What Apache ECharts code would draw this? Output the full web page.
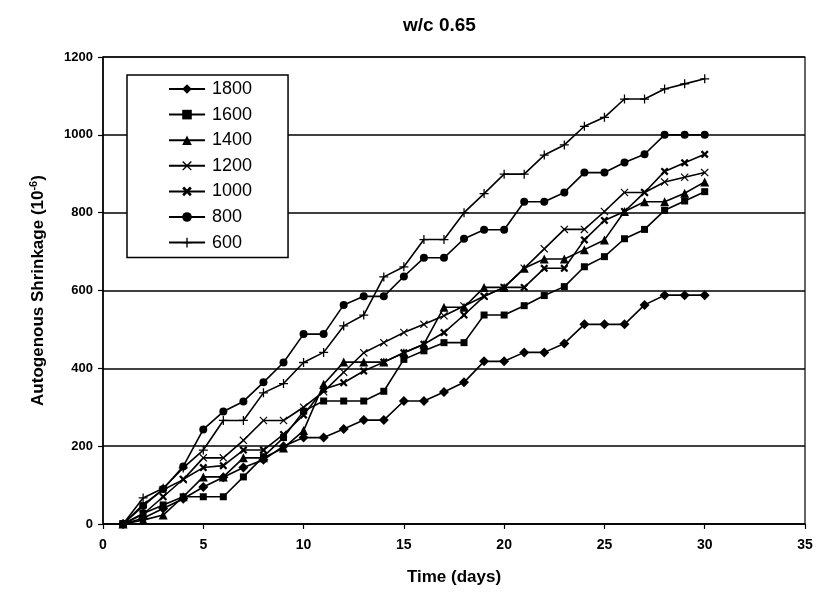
<!DOCTYPE html>
<html>
<head>
<meta charset="utf-8">
<script src="https://cdn.jsdelivr.net/npm/echarts@6/dist/echarts.min.js"></script>
<style>html,body{margin:0;padding:0;background:#fff}#c{width:818px;height:594px}</style>
</head>
<body>
<div id="c"></div>
<script>
const days = [1,2,3,4,5,6,7,8,9,10,11,12,13,14,15,16,17,18,19,20,21,22,23,24,25,26,27,28,29,30];
const s1800 = [0,15,40,65,95,120,145,165,200,222,222,244,267,267,316,316,339,364,418,418,441,441,464,513,513,513,563,588,588,588];
const s1600 = [0,27,49,70,70,70,121,173,222,290,316,316,316,341,423,445,466,466,537,537,561,587,610,661,687,733,757,806,830,854];
const s1400 = [0,10,23,70,121,121,170,170,195,240,359,416,416,416,440,462,557,557,608,608,657,681,681,705,730,803,828,828,850,879];
const s1200 = [0,50,88,114,170,170,215,266,266,300,340,390,440,466,492,513,535,560,585,608,657,707,757,757,803,852,852,879,891,903];
const s1000 = [0,25,70,115,145,150,190,190,230,280,346,363,393,416,440,462,492,537,585,608,608,657,657,730,780,803,852,906,928,950];
const s800  = [0,46,90,148,243,289,315,364,415,488,488,563,585,585,636,684,684,733,756,756,828,828,852,903,903,929,950,1000,1000,1000];
const s600  = [0,67,92,144,190,266,266,337,361,415,441,509,537,635,661,731,731,800,849,899,899,948,974,1022,1045,1092,1092,1118,1131,1144];
const seriesNames = ['1800','1600','1400','1200','1000','800','600'];
const xTicks = [0,5,10,15,20,25,30,35];
const yTicks = [0,200,400,600,800,1000,1200];

const sym = {
  '1800': ['diamond', 10],
  '1600': ['rect', 7],
  '1400': ['triangle', 9],
  '1200': ['path://M0,1 L1,0 L5,4 L9,0 L10,1 L6,5 L10,9 L9,10 L5,6 L1,10 L0,9 L4,5 Z', 8],
  '1000': ['path://M0,2 L2,0 L5,3 L8,0 L10,2 L7,5 L10,8 L8,10 L5,7 L2,10 L0,8 L3,5 Z', 8],
  '800': ['circle', 8],
  '600': ['path://M4.3,0 L5.7,0 L5.7,4.3 L10,4.3 L10,5.7 L5.7,5.7 L5.7,10 L4.3,10 L4.3,5.7 L0,5.7 L0,4.3 L4.3,4.3 Z', 9]
};
const values = {'1800':s1800,'1600':s1600,'1400':s1400,'1200':s1200,'1000':s1000,'800':s800,'600':s600};

const series = seriesNames.map(n => ({
  name: n,
  type: 'line',
  data: days.map((d,i) => [d, values[n][i]]),
  symbol: sym[n][0],
  symbolSize: sym[n][1],
  showAllSymbol: true,
  lineStyle: {color:'#000', width:1.6},
  itemStyle: {color:'#000'},
  emphasis: {disabled:true},
  animation: false
}));

const chart = echarts.init(document.getElementById('c'));
chart.setOption({
  backgroundColor: '#fff',
  animation: false,
  title: {
    text: 'w/c 0.65', left: 398, top: 11,
    textStyle: {fontFamily: 'Liberation Sans, Arial', fontWeight: 'bold', fontSize: 19, color: '#000'}
  },
  grid: {left: 103, right: 13, top: 57, bottom: 70, show: true, borderColor: '#000', borderWidth: 1.2},
  legend: {
    orient: 'vertical', left: 127, top: 75,
    data: seriesNames,
    itemWidth: 36, itemHeight: 12, itemGap: 7.6,
    padding: [5, 36, 6, 41],
    borderColor: '#000', borderWidth: 1.5, backgroundColor: '#fff',
    textStyle: {fontFamily: 'Liberation Sans, Arial', fontSize: 18, color: '#000', lineHeight: 18, padding: [0,0,0,2]}
  },
  xAxis: {
    type: 'value', min: 0, max: 35, interval: 5,
    name: 'Time (days)', nameLocation: 'middle', nameGap: 45,
    nameTextStyle: {fontFamily: 'Liberation Sans, Arial', fontWeight: 'bold', fontSize: 17, color: '#000'},
    axisLine: {lineStyle: {color: '#000', width: 1.5}},
    axisTick: {show: true, inside: false, length: 5, lineStyle: {color:'#000', width: 1.2}},
    axisLabel: {fontFamily: 'Liberation Sans, Arial', fontWeight: 'bold', fontSize: 14, color: '#000', margin: 14,
      formatter: v => xTicks.includes(v) ? String(v) : ''},
    splitLine: {show: false}
  },
  yAxis: {
    type: 'value', min: 0, max: 1200, interval: 200,
    name: '{a|Autogenous Shrinkage (10}{s|-6}{a|)}', nameLocation: 'middle', nameGap: 55, nameRotate: 90,
    nameTextStyle: {
      rich: {
        a: {fontFamily: 'Liberation Sans, Arial', fontWeight: 'bold', fontSize: 17, color: '#000'},
        s: {fontFamily: 'Liberation Sans, Arial', fontWeight: 'bold', fontSize: 11, color: '#000', verticalAlign: 'top', padding: [0,0,9,0]}
      }
    },
    axisLine: {show: true, lineStyle: {color: '#000', width: 1.5}},
    axisTick: {show: true, inside: false, length: 5, lineStyle: {color:'#000', width: 1.2}},
    axisLabel: {fontFamily: 'Liberation Sans, Arial', fontWeight: 'bold', fontSize: 13, color: '#000', margin: 10,
      formatter: v => yTicks.includes(v) ? String(v) : ''},
    splitLine: {show: true, lineStyle: {color: '#000', width: 1.5}}
  },
  series: series
});
</script>
</body>
</html>
